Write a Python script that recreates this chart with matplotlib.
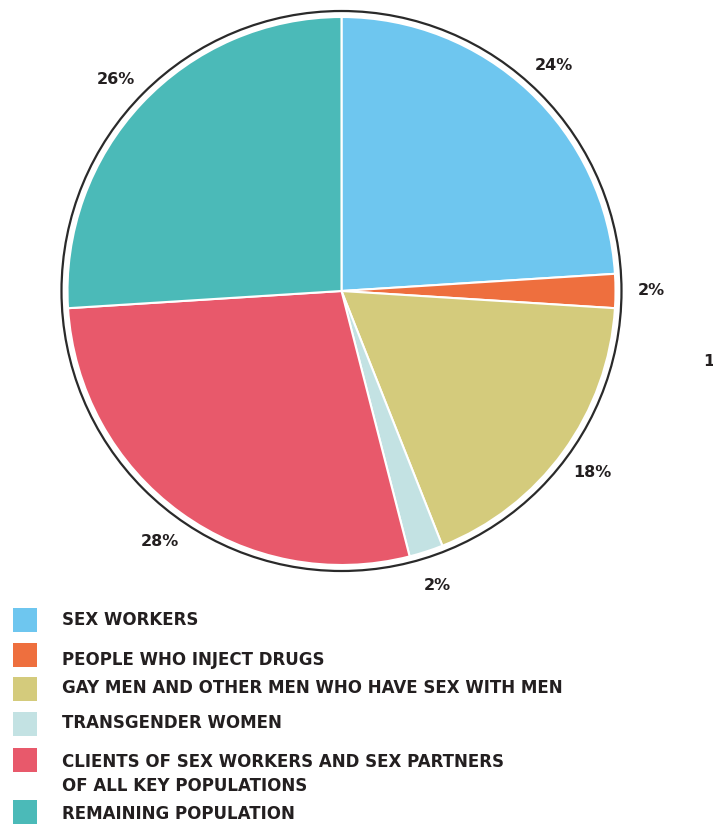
import matplotlib
matplotlib.use("Agg")
import matplotlib.pyplot as plt
from matplotlib.patches import Circle, Rectangle

categories = [
    "SEX WORKERS",
    "PEOPLE WHO INJECT DRUGS",
    "GAY MEN AND OTHER MEN WHO HAVE SEX WITH MEN",
    "TRANSGENDER WOMEN",
    "CLIENTS OF SEX WORKERS AND SEX PARTNERS\nOF ALL KEY POPULATIONS",
    "REMAINING POPULATION",
]
values = [24, 2, 18, 2, 28, 26]
colors = ["#6EC6EF", "#EE6F3E", "#D4CB7C", "#C3E2E3", "#E8596B", "#4BBAB8"]

W, H = 713, 826
TXT = "#231F20"
fig = plt.figure(figsize=(W / 100, H / 100), dpi=100)
ax = fig.add_axes([0, 0, 1, 1])

cx, cy = 341.5, H - 291
R = 274
ax.pie(values, colors=colors, startangle=90, counterclock=False,
       center=(cx, cy), radius=R,
       wedgeprops=dict(edgecolor="white", linewidth=1.5),
       autopct=lambda p: f"{p:.0f}%", pctdistance=1.13,
       textprops=dict(color=TXT, fontsize=11.5, fontweight="bold",
                      family="DejaVu Sans"))
ax.add_patch(Circle((cx, cy), 280, fill=False, edgecolor="#2a2a2a", lw=1.6))

# legend
sq_tops = [608, 643, 677, 712, 748, 800]
cap_tops = [611, 651, 679, 714, 753, 805]
for cat, col, st, yt in zip(categories, colors, sq_tops, cap_tops):
    ax.add_patch(Rectangle((13, H - (st + 24)), 24, 24, facecolor=col,
                           edgecolor="none"))
    ax.text(62, H - yt, cat, ha="left", va="top", fontsize=12,
            fontweight="bold", color=TXT, linespacing=1.4,
            family="DejaVu Sans")

ax.text(703, H - 362, "1", ha="left", va="center", fontsize=11.5,
        fontweight="bold", color=TXT, family="DejaVu Sans")

ax.set_xlim(0, W)
ax.set_ylim(0, H)
ax.set_aspect("equal")
ax.axis("off")
fig.savefig("out.png", dpi=100)
